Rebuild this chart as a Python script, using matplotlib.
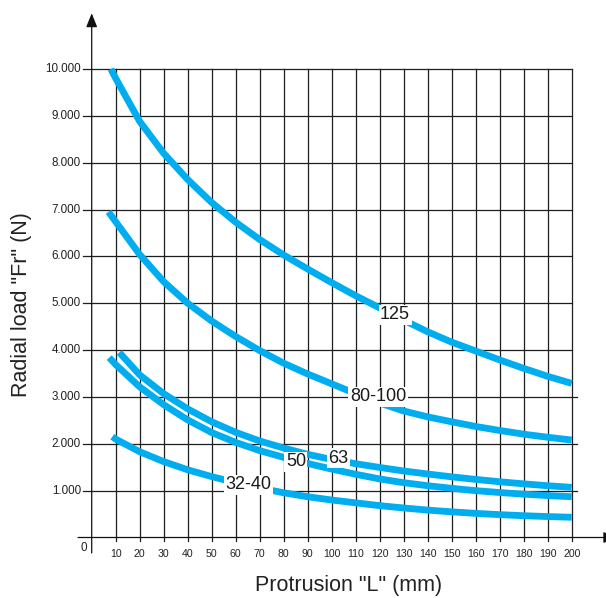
import matplotlib
matplotlib.use("Agg")
import matplotlib.pyplot as plt

plt.rcParams['font.family'] = ['Liberation Sans', 'DejaVu Sans']

# ---- data -------------------------------------------------------------
x_ticks = [10, 20, 30, 40, 50, 60, 70, 80, 90, 100, 110, 120, 130, 140,
           150, 160, 170, 180, 190, 200]
y_ticks = [1000, 2000, 3000, 4000, 5000, 6000, 7000, 8000, 9000, 10000]
y_tick_labels = ["1.000", "2.000", "3.000", "4.000", "5.000", "6.000",
                 "7.000", "8.000", "9.000", "10.000"]

l_125 = [8, 10, 20, 30, 40, 50, 60, 70, 80, 90, 100, 110, 120, 130, 140,
         150, 160, 170, 180, 190, 200]
f_125 = [10000, 9800, 8880, 8200, 7640, 7150, 6730, 6360, 6030, 5730, 5440,
         5160, 4900, 4640, 4390, 4170, 3980, 3790, 3610, 3440, 3290]

l_80_100 = [7, 10, 20, 30, 40, 50, 60, 70, 80, 90, 100, 110, 120, 130, 140,
            150, 160, 170, 180, 190, 200]
f_80_100 = [6950, 6740, 6040, 5460, 5000, 4620, 4290, 3990, 3720, 3490,
            3280, 3070, 2870, 2700, 2575, 2470, 2370, 2285, 2205, 2140, 2080]

l_63 = [11.5, 20, 30, 40, 50, 60, 70, 80, 90, 100, 110, 120, 130, 140, 150,
        160, 170, 180, 190, 200]
f_63 = [3950, 3470, 3070, 2745, 2470, 2245, 2060, 1910, 1775, 1665, 1575,
        1495, 1420, 1355, 1295, 1240, 1190, 1145, 1105, 1070]

l_50 = [7.3, 10, 20, 30, 40, 50, 60, 70, 80, 90, 100, 110, 120, 130, 140,
        150, 160, 170, 180, 190, 200]
f_50 = [3840, 3690, 3215, 2835, 2510, 2240, 2030, 1855, 1710, 1580, 1460,
        1350, 1250, 1170, 1105, 1050, 1000, 960, 925, 895, 870]

l_32_40 = [8.6, 10, 20, 30, 40, 50, 60, 70, 80, 90, 100, 110, 120, 130, 140,
           150, 160, 170, 180, 190, 200]
f_32_40 = [2152, 2100, 1830, 1620, 1445, 1300, 1170, 1055, 955, 870, 800,
           740, 680, 630, 585, 548, 515, 488, 465, 447, 432]

series = [
    ("125", l_125, f_125, (126.4, 4750)),
    ("80-100", l_80_100, f_80_100, (119.3, 3000)),
    ("63", l_63, f_63, (102.8, 1690)),
    ("50", l_50, f_50, (85.1, 1618)),
    ("32-40", l_32_40, f_32_40, (65.3, 1121)),
]

# ---- figure -----------------------------------------------------------
W, H = 606, 598
fig = plt.figure(figsize=(W / 100, H / 100), dpi=100)
ax = fig.add_axes([91.7 / W, (H - 537.5) / H, 480 / W, 468.5 / H])
ax.set_xlim(0, 200)
ax.set_ylim(0, 10000)
ax.axis('off')

grid_col = '#1e1e1e'
grid_lw = 0.9
curve_col = '#00aeef'

# horizontal grid lines (with short ticks left of the axis)
for y in y_ticks:
    x_end = 202 if y <= 3000 else 200
    ax.plot([-3.6, x_end], [y, y], color=grid_col, lw=grid_lw,
            clip_on=False, zorder=1)
# vertical grid lines
for x in x_ticks:
    ax.plot([x, x], [-70, 10000], color=grid_col, lw=grid_lw,
            clip_on=False, zorder=1)

# axes with arrows
arrow = dict(arrowstyle='-|>,head_length=0.4,head_width=0.16',
             mutation_scale=21, lw=grid_lw, color='#111111',
             shrinkA=0, shrinkB=0)
ax.annotate('', xy=(0, 11190), xytext=(0, -330), arrowprops=arrow,
            annotation_clip=False, zorder=2)
ax.annotate('', xy=(219, 0), xytext=(-5.7, 0), arrowprops=arrow,
            annotation_clip=False, zorder=2)

# tick labels
for y, lab in zip(y_ticks, y_tick_labels):
    ax.text(-4.5, y, lab, ha='right', va='center', fontsize=8.4,
            color='#222222', clip_on=False)
for x in x_ticks:
    ax.text(x, -350, str(x), ha='center', va='center', fontsize=7.6,
            color='#222222', clip_on=False)
ax.text(-3.2, -225, "0", ha='center', va='center', fontsize=8.4,
        color='#222222', clip_on=False)

# curves and their labels
for name, xs, ys, (lx, ly) in series:
    ax.plot(xs, ys, color=curve_col, lw=4.9, solid_capstyle='butt',
            solid_joinstyle='round', clip_on=False, zorder=3)
    ax.text(lx, ly, name, ha='center', va='center', fontsize=13,
            color='#1a1a1a', zorder=4,
            bbox=dict(boxstyle='square,pad=0.08', fc='white', ec='none'))

# axis titles
fig.text(21.7 / W, 1 - 305 / H, 'Radial load "Fr" (N)', rotation=90,
         ha='center', va='center', fontsize=15.5, color='#222222')
fig.text(348.5 / W, 1 - 585 / H, 'Protrusion "L" (mm)', ha='center',
         va='center', fontsize=15.5, color='#222222')

fig.savefig('out.png', dpi=100)
